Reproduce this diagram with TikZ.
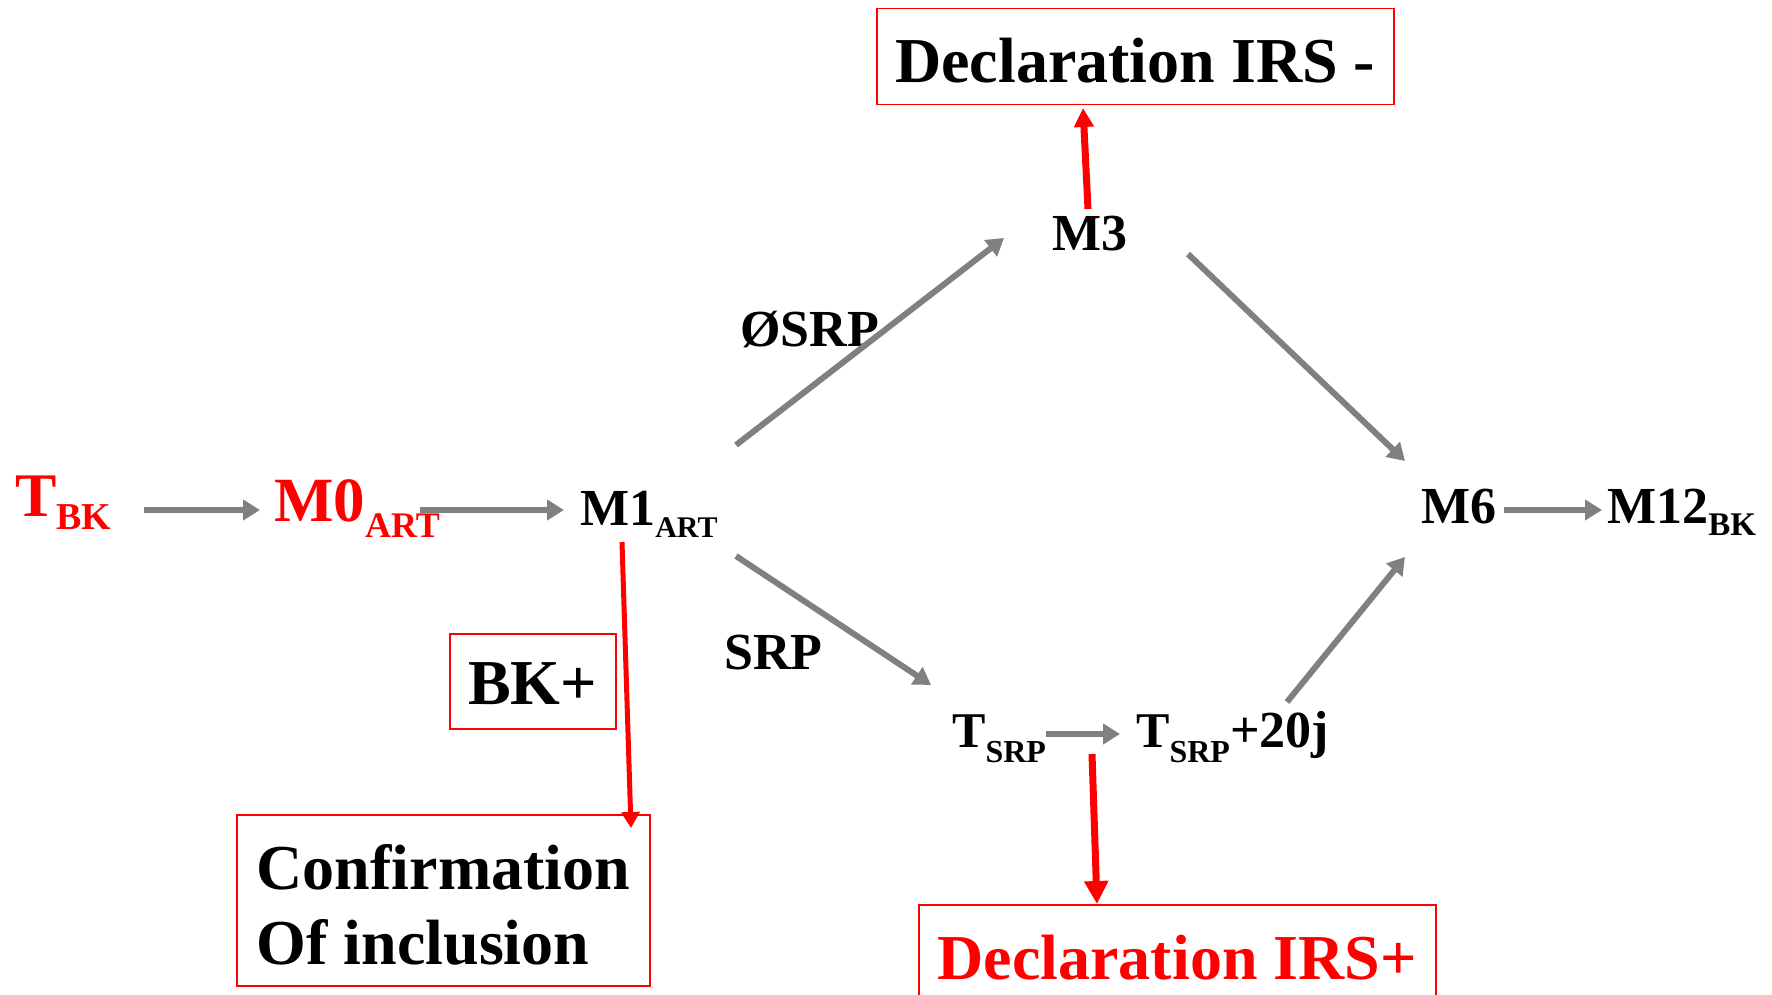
\documentclass[tikz,border=0pt]{standalone}
\usepackage{fontspec}
\setmainfont{Liberation Serif}
\usetikzlibrary{arrows.meta}
\definecolor{gr}{HTML}{808080}
\definecolor{rd}{HTML}{FF0000}
\newcommand{\fs}[1]{\fontsize{#1}{#1}\selectfont}
\newcommand{\mysub}[3]{\raisebox{-#2pt}{\fs{#1}#3}}
\begin{document}
\begin{tikzpicture}[x=1pt,y=-1pt,
  lbl/.style={anchor=base west, inner sep=0, font=\bfseries\fs{52}},
  garrow/.style={draw=gr, line width=6pt, -{Triangle[length=17pt,width=20pt]}},
  rarrow/.style={draw=rd, line width=7pt, -{Triangle[length=19pt,width=19pt]}},
  redbox/.style={draw=rd, line width=1.5pt, inner sep=0, font=\bfseries\fs{64}}]
\useasboundingbox (0,0) rectangle (1772,995);
\clip (0,0) rectangle (1772,995);

% labels
\node[lbl, text=rd, font=\bfseries\fs{62}] (tbk) at (15,516) {T\mysub{38}{13}{BK}};
\node[lbl, text=rd, font=\bfseries\fs{63}] (m0) at (274,521) {M0\mysub{36}{16}{ART}};
\node[lbl] (m1) at (580,525) {M1\mysub{30}{12}{ART}};
\node[lbl] (m3) at (1052,251) {M3};
\node[lbl] (m6) at (1421,523) {M6};
\node[lbl] (m12) at (1607,523) {M12\mysub{33}{12}{BK}};
\node[lbl, font=\bfseries\fs{50}] (tsrp) at (952,747) {T\mysub{32}{15}{SRP}};
\node[lbl, font=\bfseries\fs{50}] (tsrp20) at (1136,747) {T\mysub{32}{15}{SRP}\fs{52}+20j};
\node[lbl] (osrp) at (740,346) {ØSRP};
\node[lbl] (srp) at (724,669) {SRP};

% boxes
\node[redbox, anchor=north west, minimum width=517pt, text height=74pt, text depth=22pt] (decm) at (876,8) {Declaration IRS -};
\node[redbox, anchor=north west, minimum width=166pt, text height=71pt, text depth=24pt] (bkp) at (449,633) {BK+};
\node[redbox, anchor=north west, align=left, inner xsep=20pt, inner ysep=0pt, text height=150pt, text depth=21pt, font=\bfseries\fontsize{64}{75}\selectfont] (conf) at (236,814) {Confirmation\\Of inclusion};
\node[redbox, anchor=north west, text=rd, minimum width=517pt, text height=75pt, text depth=21pt] (decp) at (918,904) {Declaration IRS+};

% connector end points
\coordinate (a1s) at (144,510); \coordinate (a1e) at (260,510);
\coordinate (a2s) at (420,510); \coordinate (a2e) at (564,510);
\coordinate (a3s) at (736,445); \coordinate (a3e) at (1004,238);
\coordinate (a4s) at (736,556); \coordinate (a4e) at (931,685);
\coordinate (a5s) at (1046,734); \coordinate (a5e) at (1120,734);
\coordinate (a6s) at (1287,702); \coordinate (a6e) at (1405,557);
\coordinate (a7s) at (1188,254); \coordinate (a7e) at (1405,461);
\coordinate (a8s) at (1504,510); \coordinate (a8e) at (1602,510);
\coordinate (r1s) at (1088,209); \coordinate (r1e) at (1083,108);
\coordinate (r2s) at (622,542);  \coordinate (r2e) at (631,828);
\coordinate (r3s) at (1092,754); \coordinate (r3e) at (1097,904);

\draw[garrow] (a1s) -- (a1e);
\draw[garrow] (a2s) -- (a2e);
\draw[garrow] (a3s) -- (a3e);
\draw[garrow] (a4s) -- (a4e);
\draw[garrow] (a5s) -- (a5e);
\draw[garrow] (a6s) -- (a6e);
\draw[garrow] (a7s) -- (a7e);
\draw[garrow] (a8s) -- (a8e);

\draw[rarrow] (r1s) -- (r1e);
\draw[rarrow, line width=5pt, -{Triangle[length=16pt,width=18pt]}] (r2s) -- (r2e);
\draw[rarrow, -{Triangle[length=23pt,width=23pt]}] (r3s) -- (r3e);
\end{tikzpicture}
\end{document}
